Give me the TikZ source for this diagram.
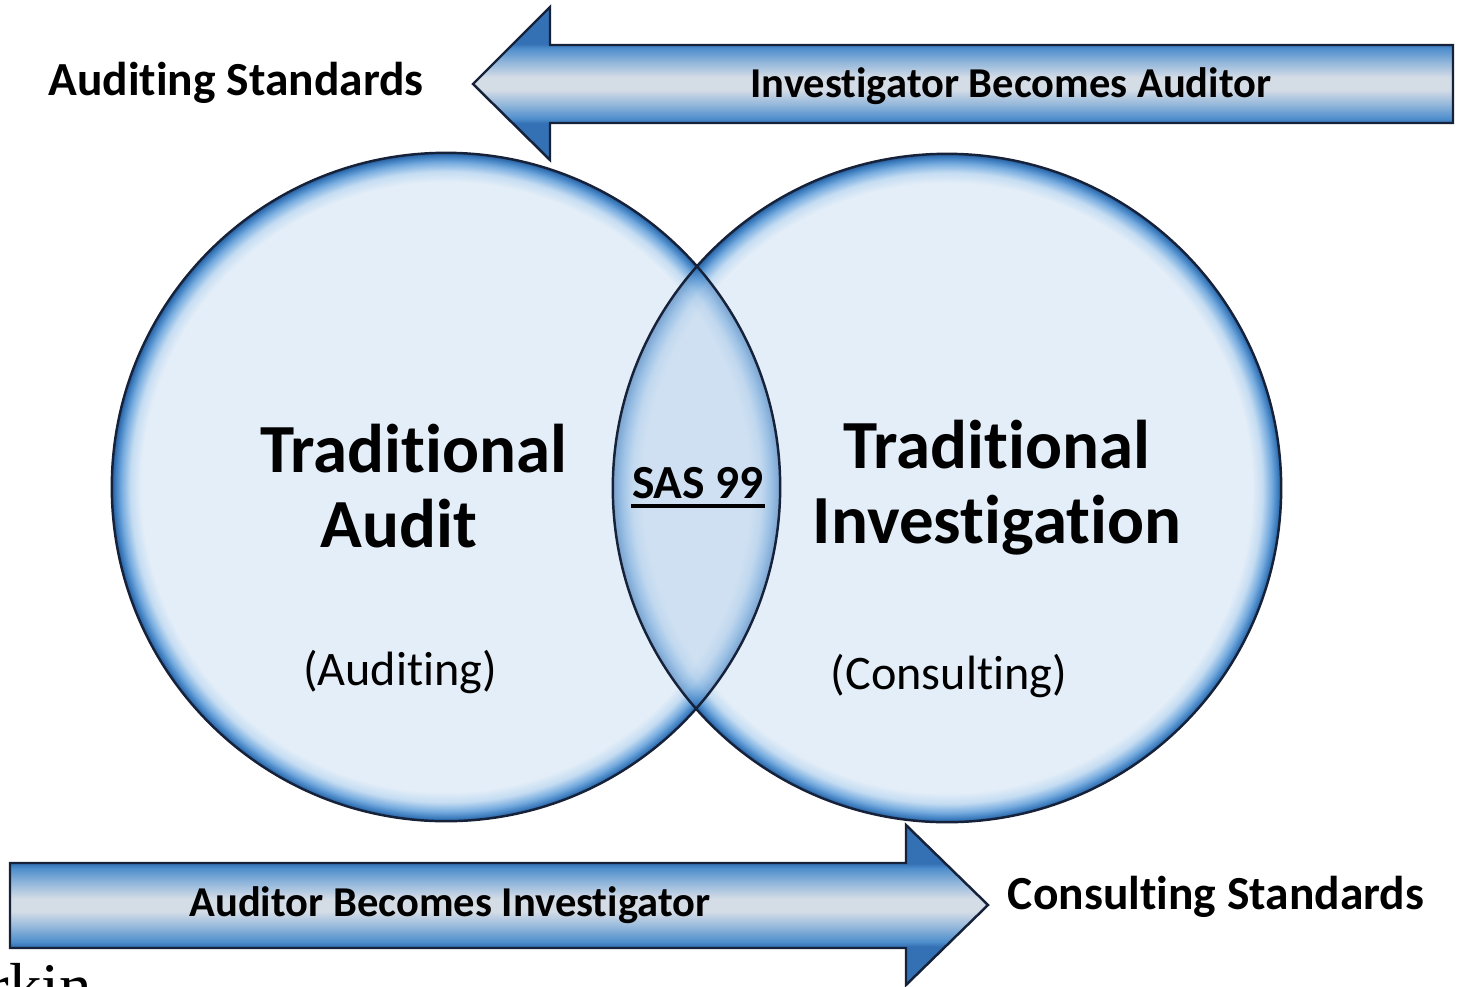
\documentclass[tikz,border=0pt]{standalone}
\usepackage{fontspec}
\setmainfont{Carlito}[Ligatures=NoCommon]
\newfontfamily\logofont{Liberation Serif}
\usetikzlibrary{positioning}
\definecolor{bubblefill}{RGB}{228,238,248}
\definecolor{rimlight}{RGB}{196,220,242}
\definecolor{rimmid}{RGB}{116,170,222}
\definecolor{rimblue}{RGB}{60,124,190}
\definecolor{rimdark}{RGB}{40,92,156}
\definecolor{navyline}{RGB}{22,34,58}
\definecolor{bandedge}{RGB}{52,112,180}
\definecolor{bandblue}{RGB}{78,142,204}
\definecolor{bandsoft}{RGB}{152,186,220}
\definecolor{bandmid}{RGB}{212,220,230}
\definecolor{lensblue}{RGB}{60,130,200}
\pgfdeclareradialshading{bubble}{\pgfpointorigin}{%
  color(0bp)=(bubblefill); color(22.8bp)=(bubblefill); color(23.6bp)=(rimlight);
  color(24.3bp)=(rimmid); color(24.75bp)=(rimblue); color(25bp)=(rimdark);
  color(50bp)=(rimdark)}
\pgfdeclareverticalshading{banner}{100bp}{%
  color(0bp)=(bandedge); color(37bp)=(bandedge); color(38.5bp)=(bandblue);
  color(43.5bp)=(bandsoft); color(48bp)=(bandmid); color(52bp)=(bandmid);
  color(56.5bp)=(bandsoft); color(61.5bp)=(bandblue); color(63bp)=(bandedge);
  color(100bp)=(bandedge)}
\tikzset{
    bubble/.style = {circle, inner sep=0pt, minimum size=6.68cm, shading=bubble},
    rim/.style = {draw=navyline, line width=0.7pt},
    banner/.style = {draw=navyline, line width=0.7pt, shading=banner},
    title/.style = {align=center, font=\fontsize{19.6}{21.3}\selectfont\bfseries},
    standard/.style = {font=\fontsize{13.5}{15}\selectfont\bfseries},
    caption/.style = {font=\fontsize{12.1}{14}\selectfont\bfseries},
    field/.style = {font=\fontsize{13.7}{15}\selectfont},
    logo/.style = {inner sep=0pt, anchor=base west, font=\logofont\fontsize{18.5}{20}\selectfont}
}

\begin{document}
\begin{tikzpicture}[x=0.01cm, y=-0.01cm]
\useasboundingbox (0,0) rectangle (1459,987);
\clip (0,0) rectangle (1459,987);
% the two fields
\node[bubble] at (446, 487) (audit) {};
\node[bubble] at (947, 488) (invest) {};
\begin{scope}
  \clip (invest.center) circle[radius=3.34cm];
  \shade[shading=bubble, opacity=0.5] (audit.center) circle[radius=3.34cm];
  \fill[lensblue, opacity=0.12] (audit.center) circle[radius=3.34cm];
\end{scope}
\draw[rim] (audit.center) circle[radius=3.34cm];
\draw[rim] (invest.center) circle[radius=3.34cm];
% banners
\shade[banner] (1453,45) -- (550,45) -- (550,7) -- (473,84) -- (550,160)
  -- (550,123) -- (1453,123) -- cycle;
\shade[banner] (10,863) -- (906,863) -- (906,825) -- (988,905) -- (906,985)
  -- (906,948) -- (10,948) -- cycle;
% texts
\node[title] at (414, 486) (auditname) {Traditional\\Audit\hspace*{0.3cm}};
\node[title] at (997, 488) (investname) {Traditional\\Investigation};
\node[field] at (400, 672) (auditing) {(Auditing)};
\node[field] at (949, 676) (consulting) {(Consulting)};
\node[standard, inner sep=0pt, anchor=base] at (698, 498) (sas) {SAS 99};
\draw[line width=1.1pt] ([yshift=-2.2pt]sas.base west) -- ([yshift=-2.2pt]sas.base east);
\node[standard] at (236, 83) (auditstd) {Auditing Standards};
\node[standard] at (1216, 897) (consultstd) {Consulting Standards};
\node[caption] at (1011, 86) (toauditor) {Investigator Becomes Auditor};
\node[caption] at (450, 905) (toinvest) {Auditor Becomes Investigator};
\node[logo] at (-13, 1008) (brand) {rkin};
\end{tikzpicture}
\end{document}
